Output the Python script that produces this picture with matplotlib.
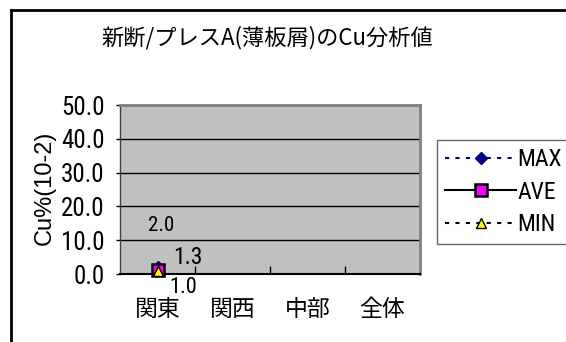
import numpy as np
import matplotlib
matplotlib.use("Agg")
import matplotlib.pyplot as plt
from matplotlib import font_manager
from matplotlib.lines import Line2D

# --- data -------------------------------------------------------------
regions = ["関東", "関西", "中部", "全体"]
max_vals = [2.0, np.nan, np.nan, np.nan]
ave_vals = [1.3, np.nan, np.nan, np.nan]
min_vals = [1.0, np.nan, np.nan, np.nan]
y_ticks = [0, 10, 20, 30, 40, 50]
title_text = "新断/プレスA(薄板屑)のCu分析値"
ylabel_text = "Cu%(10-2)"

# --- fonts ------------------------------------------------------------
installed = {f.name for f in font_manager.fontManager.ttflist}
narrow = None
for cand in ("Liberation Sans Narrow", "Roboto Condensed", "Open Sans Condensed",
             "DejaVu Sans Condensed", "Arial Narrow"):
    if cand in installed:
        narrow = cand
        break
latin = "Liberation Sans"
if narrow is None:
    narrow = latin
    squeeze = 0.86          # regular width font: shrink to keep widths
else:
    squeeze = 1.0
jp = ["Noto Sans CJK JP", "DejaVu Sans"]

W, H = 566, 342
fig = plt.figure(figsize=(W / 100, H / 100), dpi=100)
fig.patch.set_facecolor("white")

# plot area in pixel geometry
left, right, top, bottom = 120, 420, 105, 274
ax = fig.add_axes([left / W, (H - bottom) / H, (right - left) / W, (bottom - top) / H])
ax.set_facecolor("#C0C0C0")

x = np.arange(len(regions))
ax.plot(x, max_vals, color="#000080", ls=(0, (2, 3)), lw=1.5, marker="D", ms=6,
        mfc="#000080", mec="#000080", label="MAX", zorder=3, clip_on=False)
ax.plot(x, ave_vals, color="black", lw=1.5, marker="s", ms=9,
        mfc="#FF00FF", mec="black", mew=1.8, label="AVE", zorder=4, clip_on=False)
ax.plot(x, min_vals, color="black", ls=(0, (2, 3)), lw=1.5, marker="^", ms=7,
        mfc="#FFFF00", mec="black", mew=1, label="MIN", zorder=5, clip_on=False)

# value labels
label_specs = [
    (max_vals, (4, 36), 15),
    (ave_vals, (30, 6), 17),
    (min_vals, (26, -22), 16),
]
for vals, off, fs in label_specs:
    for xi, v in zip(x, vals):
        if np.isnan(v):
            continue
        ax.annotate(f"{v:.1f}", (xi, v), xytext=off, textcoords="offset pixels",
                    ha="center", va="baseline", fontsize=fs * (0.5 + 0.5 * squeeze),
                    family=narrow, color="black", zorder=6, annotation_clip=False)

ax.set_xlim(-0.5, len(regions) - 0.5)
ax.set_ylim(0, 50)
ax.set_yticks(y_ticks)
ax.set_yticklabels([f"{t:.1f}" for t in y_ticks], family=narrow, fontsize=18 * squeeze)
ax.tick_params(axis="y", direction="out", length=3, width=1, pad=8)

ax.set_xticks(x)
ax.set_xticklabels(regions, family=jp, fontsize=16.5)
ax.set_xticks(x[:-1] + 0.5, minor=True)
ax.tick_params(axis="x", which="major", length=0, pad=17)
ax.tick_params(axis="x", which="minor", direction="in", length=5.5, width=1)

ax.yaxis.grid(True, color="black", lw=1)
ax.set_axisbelow(True)

for side in ("top", "right"):
    ax.spines[side].set_color("#808080")
    ax.spines[side].set_linewidth(2)
ax.spines["left"].set_color("#404040")
ax.spines["left"].set_linewidth(1)
ax.spines["bottom"].set_color("black")
ax.spines["bottom"].set_linewidth(1.5)

# legend
leg = ax.legend(loc="upper left", bbox_to_anchor=(437 / W, (H - 140) / H),
                bbox_transform=fig.transFigure, borderaxespad=0, frameon=True,
                fancybox=False, shadow=False, numpoints=1,
                handlelength=3.0, handletextpad=0.05, borderpad=0.35,
                labelspacing=0.4, prop={"family": narrow, "size": 17 * squeeze})
leg.get_frame().set_edgecolor("#404040")
leg.get_frame().set_linewidth(1)

# title and axis title
fig.text(267.5 / W, (H - 37.5) / H, title_text, ha="center", va="center",
         fontsize=16, family=jp)
fig.text(45 / W, (H - 188) / H, ylabel_text, rotation=90, ha="center",
         va="center", fontsize=17, family=latin)

# chart frame
fig.add_artist(Line2D([10.5 / W, 10.5 / W], [0, 1 - 10 / H],
                      transform=fig.transFigure, color="black", lw=2))
fig.add_artist(Line2D([10.5 / W, 1], [1 - 10 / H, 1 - 10 / H],
                      transform=fig.transFigure, color="black", lw=2))

fig.savefig("out.png", dpi=100)
